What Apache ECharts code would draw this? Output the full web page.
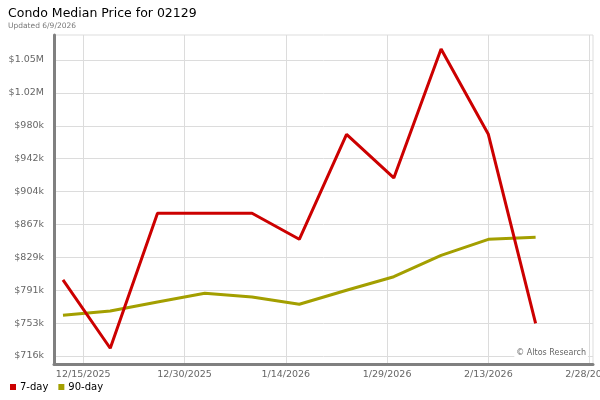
<!DOCTYPE html>
<html>
<head>
<meta charset="utf-8">
<script src="https://cdn.jsdelivr.net/npm/echarts@6/dist/echarts.min.js"></script>
<style>
html,body{margin:0;padding:0;background:#fff;}
#c{width:600px;height:400px;}
</style>
</head>
<body>
<div id="c"></div>
<script>
var dates = ['2025-12-12','2025-12-19','2025-12-26','2026-01-02','2026-01-09','2026-01-16','2026-01-23','2026-01-30','2026-02-06','2026-02-13','2026-02-20'];
var sevenDay = [803400, 724900, 880000, 880000, 880000, 850100, 970800, 920600, 1068900, 970800, 753600];
var ninetyDay = [762800, 767700, 778100, 788100, 783800, 775400, 791500, 807100, 831700, 850100, 852400];
var yTickValues = [716000, 753800, 791600, 829400, 867200, 905000, 942800, 980600, 1018400, 1056200];
var yTickLabels = ['$716k','$753k','$791k','$829k','$867k','$904k','$942k','$980k','$1.02M','$1.05M'];
var xTickDates = ['2025-12-15','2025-12-30','2026-01-14','2026-01-29','2026-02-13','2026-02-28'];
var xTickLabels = ['12/15/2025','12/30/2025','1/14/2026','1/29/2026','2/13/2026','2/28/2026'];

function ts(s){ var p = s.split('-'); return Date.UTC(+p[0], +p[1]-1, +p[2]); }
var DAY = 86400000;
var xTickValues = xTickDates.map(ts);
var xMin = ts('2025-12-15') - 4.33*DAY;
var xMax = ts('2026-02-28') + 0.5*DAY;

var chart = echarts.init(document.getElementById('c'));
var font = 'DejaVu Sans';
chart.setOption({
  animation: false,
  textStyle: {fontFamily: font},
  title: {
    text: 'Condo Median Price for 02129',
    subtext: 'Updated 6/9/2026',
    left: 3, top: 2,
    itemGap: 2,
    textStyle: {fontFamily: font, fontSize: 12.5, fontWeight: 'normal', color: '#000'},
    subtextStyle: {fontFamily: font, fontSize: 7.5, color: '#777'}
  },
  legend: {
    left: 5, bottom: 3,
    icon: 'rect', itemWidth: 6, itemHeight: 6, itemGap: 10,
    textStyle: {fontFamily: font, fontSize: 10, color: '#000', padding: [0,0,0,-1]},
    data: ['7-day','90-day']
  },
  grid: {
    left: 54, right: 7, top: 35, bottom: 36,
    outerBoundsMode: 'none', containLabel: false,
    show: true, borderColor: '#ddd', borderWidth: 1, backgroundColor: '#fff'
  },
  xAxis: {
    type: 'value', min: xMin, max: xMax,
    axisLine: {show: true, lineStyle: {color: '#808080', width: 3}},
    axisTick: {show: false, customValues: xTickValues},
    splitLine: {show: true, lineStyle: {color: '#dcdcdc', width: 1}},
    axisLabel: {
      customValues: xTickValues, margin: 6, hideOverlap: false,
      fontFamily: font, fontSize: 9.5, color: '#666',
      formatter: function(v){ var i = xTickValues.indexOf(v); return i >= 0 ? xTickLabels[i] : ''; }
    }
  },
  yAxis: {
    type: 'value', min: 706800, max: 1084900,
    axisLine: {show: true, lineStyle: {color: '#808080', width: 3}},
    axisTick: {show: false, customValues: yTickValues},
    splitLine: {show: true, lineStyle: {color: '#dcdcdc', width: 1}},
    axisLabel: {
      customValues: yTickValues, margin: 10,
      fontFamily: font, fontSize: 9.5, color: '#666',
      formatter: function(v){ var i = yTickValues.indexOf(v); return i >= 0 ? yTickLabels[i] : ''; }
    }
  },
  graphic: [{
    type: 'text', right: 12, top: 348, z: 100,
    style: {text: '\u00a9 Altos Research', fontFamily: font, fontSize: 8, fill: '#666',
      backgroundColor: '#fff', padding: [1,2,1,2]}
  }],
  series: [{
    name: '7-day', type: 'line', showSymbol: false, symbol: 'none',
    itemStyle: {color: '#CC0000'},
    lineStyle: {color: '#CC0000', width: 3},
    data: dates.map(function(d,i){ return [ts(d), sevenDay[i]]; }),
    z: 3
  },{
    name: '90-day', type: 'line', showSymbol: false, symbol: 'none',
    itemStyle: {color: '#A39F00'},
    lineStyle: {color: '#A39F00', width: 3},
    data: dates.map(function(d,i){ return [ts(d), ninetyDay[i]]; }),
    z: 2
  }]
});
</script>
</body>
</html>
